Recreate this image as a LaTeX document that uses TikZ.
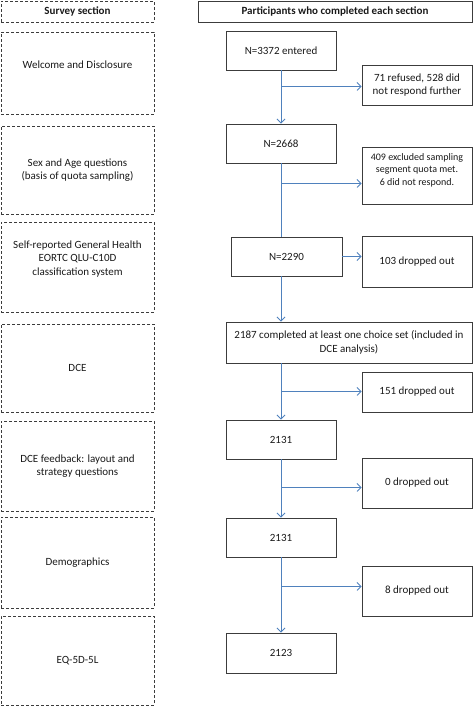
\documentclass[tikz,border=0pt]{standalone}
\usepackage{fontspec}
\setmainfont{Carlito}
\definecolor{flowblue}{RGB}{79,129,189}
\definecolor{boxgray}{RGB}{60,60,60}
\usetikzlibrary{arrows.meta,positioning,calc}

\begin{document}
\begin{tikzpicture}[
  x=1pt,y=-1pt,
  every node/.style={font=\fontsize{11}{13.4}\selectfont,text=black!90},
  secbox/.style={draw=boxgray,dash pattern=on 3pt off 2pt,line width=0.9pt,
                 minimum width=153pt,align=center,inner sep=2pt},
  cntbox/.style={draw=boxgray,line width=0.9pt,minimum width=110pt,
                 minimum height=39pt,align=center,inner sep=2pt},
  dropbox/.style={cntbox,minimum width=110pt},
  flow/.style={flowblue,line width=0.8pt},
  flowarr/.style={flow,-{Straight Barb[length=4pt,width=8pt]}},
]
  \useasboundingbox (0,0) rectangle (474,707);

  % Left column: survey sections
  \node[secbox,minimum height=21pt,font=\fontsize{11}{13.4}\selectfont\bfseries]
    (hdr) at (77.5,11.5) {Survey section};
  \node[secbox,minimum height=82pt,text depth=16pt] (welcome) at (77.5,73)
    {Welcome and Disclosure};
  \node[secbox,minimum height=88pt] (sexage) at (77.5,170)
    {Sex and Age questions\\(basis of quota sampling)};
  \node[secbox,minimum height=90pt,text depth=18pt] (selfrep) at (77.5,267)
    {Self-reported General Health\\EORTC QLU-C10D\\classification system};
  \node[secbox,minimum height=88pt] (dce) at (77.5,368) {DCE};
  \node[secbox,minimum height=90pt] (feedback) at (77.5,466)
    {DCE feedback: layout and\\strategy questions};
  \node[secbox,minimum height=91pt] (demo) at (77.5,562.5) {Demographics};
  \node[secbox,minimum height=89pt] (eq) at (77.5,660.5) {EQ-5D-5L};

  % Right column: participants
  \node[cntbox,minimum width=274pt,minimum height=21pt,
        font=\fontsize{11}{13.4}\selectfont\bfseries]
    (part) at (335,11.5) {Participants who completed each section};
  \node[cntbox] (n3372) at (281,50.5) {N=3372 entered};
  \node[cntbox] (n2668) at (281,143.5) {N=2668};
  \node[cntbox,minimum width=111pt] (n2290) at (286.5,256.5) {N=2290};
  \node[cntbox,minimum width=246pt,minimum height=41pt] (n2187) at (349,342.5)
    {2187 completed at least one choice set (included in\\DCE analysis)};
  \node[cntbox] (n2131a) at (281,439.5) {2131};
  \node[cntbox] (n2131b) at (281,537.5) {2131};
  \node[cntbox,minimum height=40pt] (n2123) at (281,653) {2123};

  % Drop-outs
  \node[dropbox,minimum height=40pt,font=\fontsize{11}{12.5}\selectfont] (r71) at (417,85)
    {71 refused, 528 did\\not respond further};
  \node[dropbox,minimum height=57pt,text depth=12pt,
        font=\fontsize{10}{12.4}\selectfont] (r409) at (417,175.5)
    {409 excluded sampling\\segment quota met.\\6 did not respond.};
  \node[dropbox,minimum height=51pt] (r103) at (417,261.5) {103 dropped out};
  \node[dropbox,minimum height=40pt] (r151) at (417,392) {151 dropped out};
  \node[dropbox,minimum height=50pt] (r0) at (417,483) {0 dropped out};
  \node[dropbox,minimum height=50pt] (r8) at (417,591) {8 dropped out};

  % Branch points on the trunk
  \coordinate (b71) at ($(n3372.south)+(0,16)$);
  \coordinate (b409) at ($(n2668.south)+(0,20)$);
  \coordinate (b151) at ($(n2187.south -| n3372)+(0,28)$);
  \coordinate (b0) at ($(n2131a.south)+(0,28)$);
  \coordinate (b8) at ($(n2131b.south)+(0,29)$);

  % Trunk
  \draw[flowarr] (n3372.south) -- (n2668.north);
  \draw[flow] (n2668.south) -- (n2668.south |- n2290.north);
  \draw[flowarr] (n2668.south |- n2290.south) -- (n2668.south |- n2187.north);
  \draw[flowarr] (n2668.south |- n2187.south) -- (n2131a.north);
  \draw[flowarr] (n2131a.south) -- (n2131b.north);
  \draw[flowarr] (n2131b.south) -- (n2123.north);

  % Branches
  \draw[flowarr] (b71) -- (b71 -| r71.west);
  \draw[flowarr] (b409) -- (b409 -| r409.west);
  \draw[flowarr] (n2290.east) -- (n2290.east -| r103.west);
  \draw[flowarr] (b151) -- (b151 -| r151.west);
  \draw[flowarr] (b0) -- (b0 -| r0.west);
  \draw[flowarr] (b8) -- (b8 -| r8.west);
\end{tikzpicture}
\end{document}
